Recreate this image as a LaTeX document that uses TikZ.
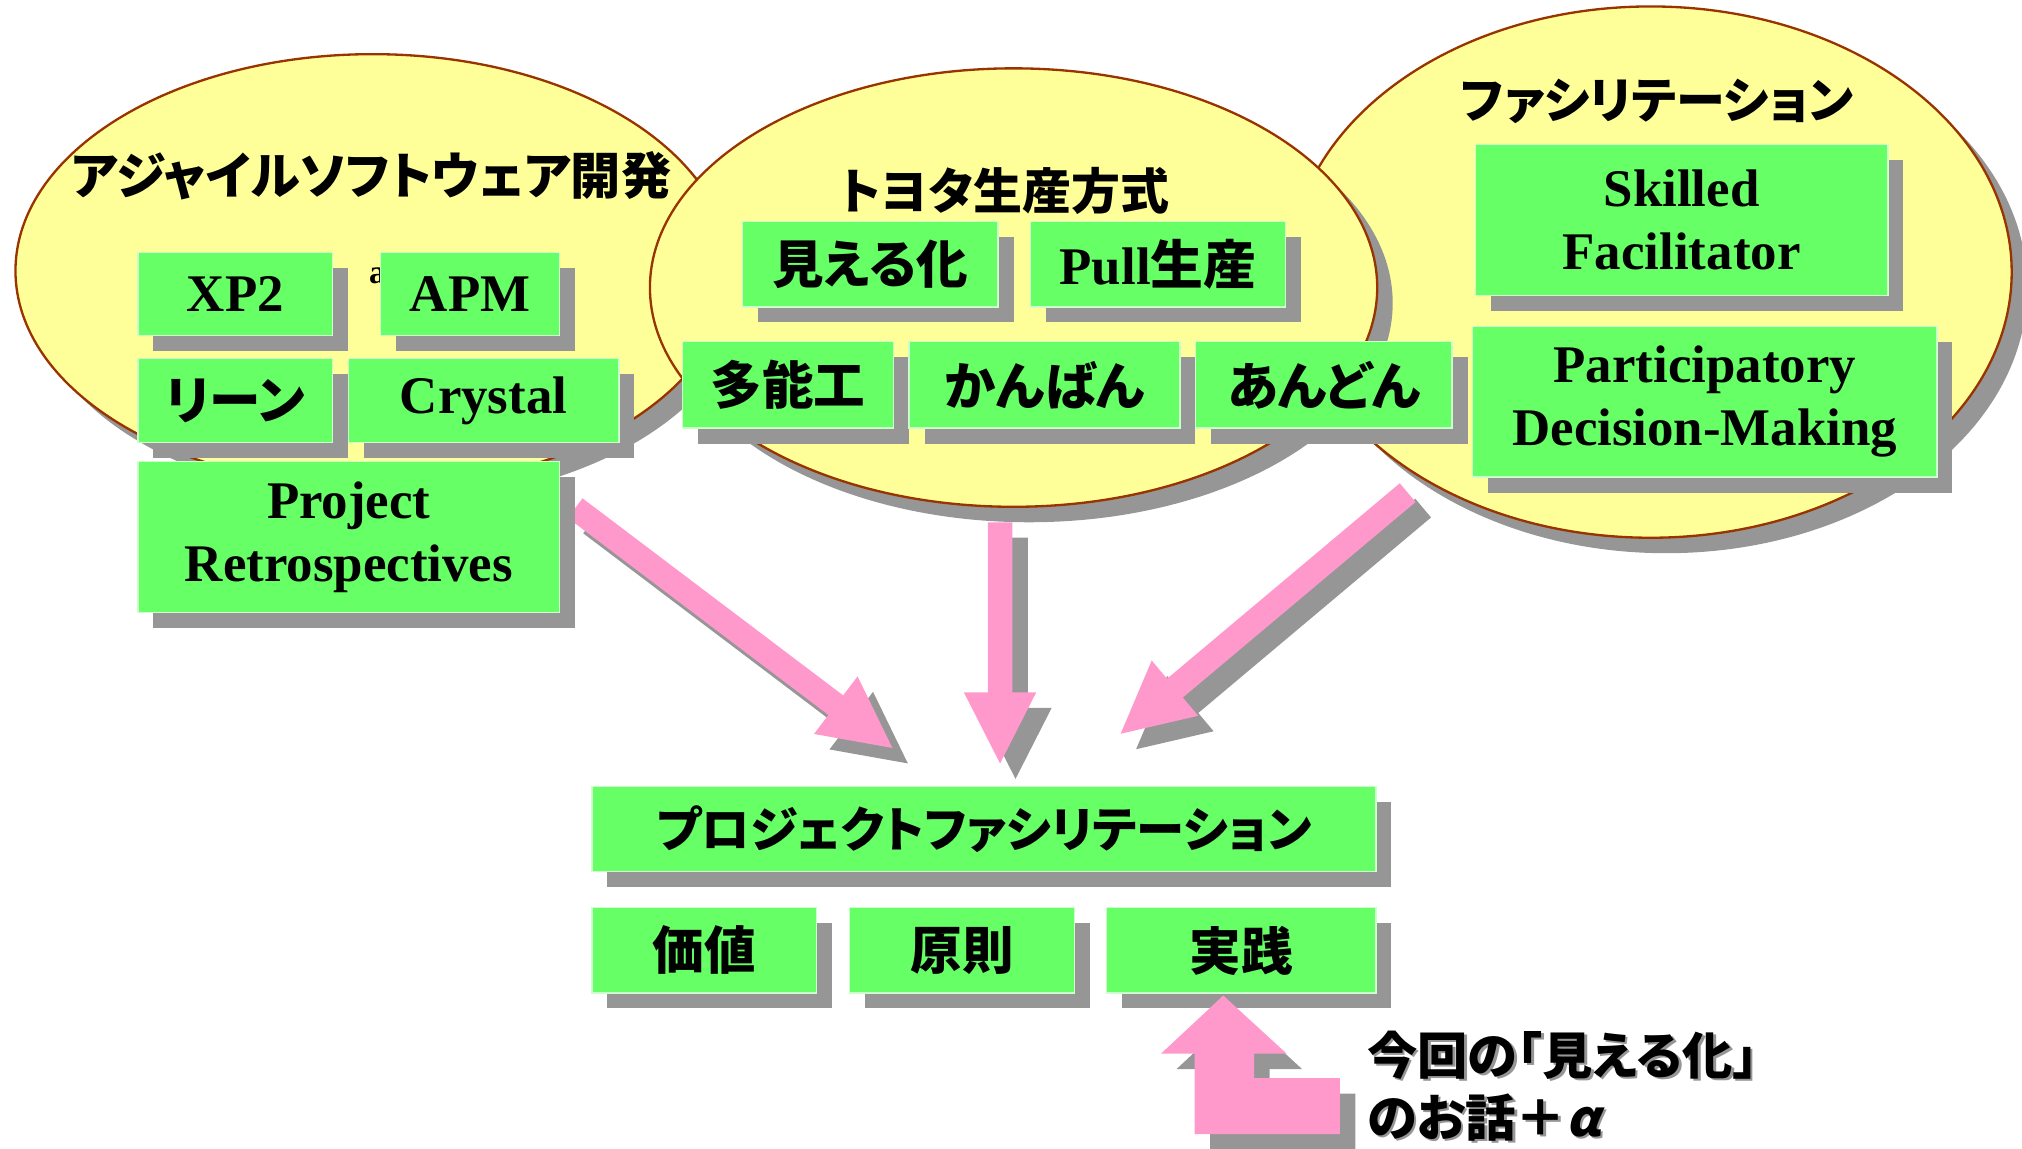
\documentclass[tikz,border=0pt]{standalone}
\usepackage{fontspec}
\setmainfont{Liberation Serif}
\newfontfamily\jp{Noto Sans CJK JP}[RawFeature=+palt]
\newfontfamily\jpsl{Noto Sans CJK JP}[FakeSlant=0.22]
\usetikzlibrary{calc,shapes.geometric,shadows}
\definecolor{ellfill}{HTML}{FFFF99}
\definecolor{elldraw}{HTML}{993300}
\definecolor{shadowc}{HTML}{969696}
\definecolor{boxgreen}{HTML}{66FF66}
\definecolor{boxline}{HTML}{CCFFCC}
\definecolor{arrowpink}{HTML}{FF99CC}
\newcommand\fatarrow[3]{%
  \coordinate (#1h) at ($(#3)!55pt!(#2)$);
  \fill[fat] ($(#2)!9.5pt!90:(#3)$) -- ($(#1h)!9.5pt!90:(#3)$) -- ($(#1h)!28pt!90:(#3)$) -- (#3)
     -- ($(#1h)!28pt!-90:(#3)$) -- ($(#1h)!9.5pt!-90:(#3)$) -- ($(#2)!9.5pt!-90:(#3)$) -- cycle;
}
\begin{document}
\begin{tikzpicture}[x=1pt,y=-1pt,
  dshadow/.style={drop shadow={shadow xshift=12pt,shadow yshift=-12pt,fill=shadowc,opacity=1}},
  ell/.style={ellipse, draw=elldraw, line width=1.8pt, fill=ellfill, inner sep=0pt, dshadow},
  gbox/.style={rectangle, draw=boxline, line width=1pt, fill=boxgreen, inner sep=0pt, dshadow,
     align=center, font=\bfseries\fontsize{41}{49}\selectfont},
  jbox/.style={gbox, font=\jp\bfseries\fontsize{40}{48}\selectfont},
  title/.style={font=\jp\bfseries\fontsize{38}{46}\selectfont, inner sep=0pt},
  fat/.style={fill=arrowpink, preaction={fill=shadowc, transform canvas={xshift=12pt,yshift=-12pt}}},
  note/.style={anchor=west, align=left, inner sep=0pt, font=\jp\bfseries\fontsize{39}{48}\selectfont},
]
\useasboundingbox (0,0) rectangle (1568,891);

% big arrows
\coordinate (s1) at (446,394);   \coordinate (t1) at (692,580);
\coordinate (s2) at (775.5,405); \coordinate (t2) at (775.5,592);
\coordinate (s3) at (1091.6,382);\coordinate (t3) at (869,569);
\fatarrow{a1}{s1}{t1}
\fatarrow{a2}{s2}{t2}
\fatarrow{a3}{s3}{t3}

% ellipses
\node[ell, minimum width=554pt, minimum height=336pt] (agile) at (289,210) {};
\node[ell, minimum width=560pt, minimum height=412pt] (facil) at (1280,211) {};
\node[ell, minimum width=564pt, minimum height=340pt] (toyota) at (786,223) {};

\node[font=\bfseries\fontsize{26}{30}\selectfont, anchor=base west, inner sep=0pt] (stray) at (286,220) {a};

% agile boxes
\node[gbox, minimum width=151pt, minimum height=64pt] (xp2) at (182.5,228) {XP2};
\node[gbox, minimum width=139pt, minimum height=64pt] (apm) at (364.5,228) {APM};
\node[jbox, minimum width=151pt, minimum height=65pt] (lean) at (182.5,310.5) {リーン};
\node[gbox, minimum width=210pt, minimum height=65pt] (crystal) at (375,310.5) {Crystal};
\node[gbox, minimum width=327pt, minimum height=117pt] (retro) at (270.5,416.5) {Project\\Retrospectives};

% toyota boxes
\node[jbox, minimum width=198pt, minimum height=66pt] (mieru) at (675,205) {見える化};
\node[gbox, minimum width=198pt, minimum height=66pt] (pull) at (898,205) {Pull{\jp 生産}};
\node[jbox, minimum width=164pt, minimum height=67pt] (tanoko) at (611,298.5) {多能工};
\node[jbox, minimum width=210pt, minimum height=67pt] (kanban) at (810,298.5) {かんばん};
\node[jbox, minimum width=199pt, minimum height=67pt] (andon) at (1026.5,298.5) {あんどん};

% facilitation boxes
\node[gbox, minimum width=320pt, minimum height=117pt] (skilled) at (1304,170.5) {Skilled\\Facilitator};
\node[gbox, minimum width=360pt, minimum height=117pt] (pdm) at (1322,311.5) {Participatory\\Decision-Making};

% titles
\node[title, font=\jp\bfseries\fontsize{39}{46}\selectfont] (agiletitle) at (288,136) {アジャイルソフトウェア開発};
\node[title] (toyotatitle) at (779,148) {トヨタ生産方式};
\node[title] (faciltitle) at (1285,79) {ファシリテーション};

% bottom
\node[jbox, minimum width=608pt, minimum height=66pt, font=\jp\bfseries\fontsize{37.5}{45}\selectfont] (pf) at (763,643) {プロジェクトファシリテーション};
\node[jbox, minimum width=174pt, minimum height=66pt] (kachi) at (546,737) {価値};
\node[jbox, minimum width=174pt, minimum height=66pt] (gensoku) at (746,737) {原則};
\node[jbox, minimum width=209pt, minimum height=66pt] (jissen) at (962.5,737) {実践};

\fill[fat] (948.6,772) -- (997.7,817) -- (972.5,817) -- (972.5,836) -- (1039,836) -- (1039,879.5)
   -- (926.4,879.5) -- (926.4,817) -- (900.4,817) -- cycle;

\node[note, text=shadowc] (noteshadow) at (1062,844) {今回の「見える化」\\のお話＋{\jpsl α}};
\node[note] (notetext) at (1060,842) {今回の「見える化」\\のお話＋{\jpsl α}};
\end{tikzpicture}
\end{document}
